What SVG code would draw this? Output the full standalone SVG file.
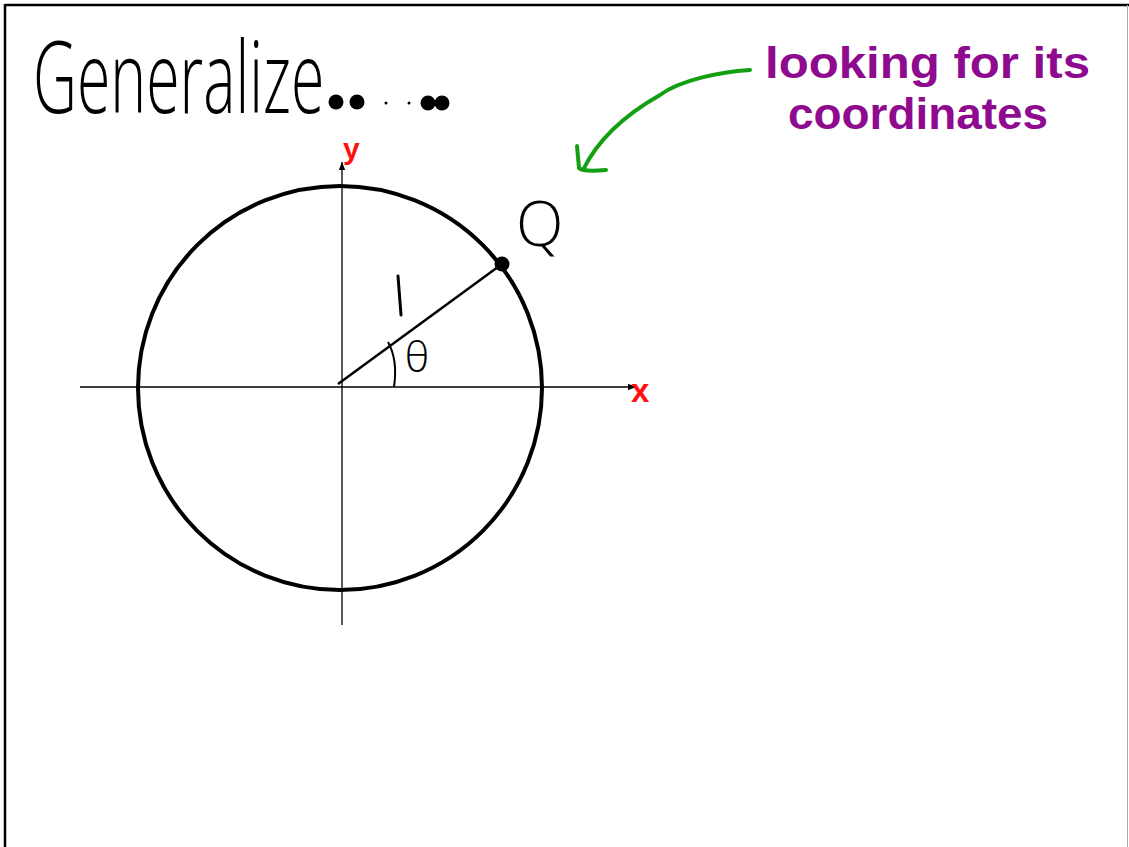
<svg xmlns="http://www.w3.org/2000/svg" width="1129" height="847" viewBox="0 0 1129 847">
<style>
.hand{font-family:"Open Sans","Liberation Sans",sans-serif;font-weight:300;fill:#000}
.red{font-family:"Liberation Sans",Arial,sans-serif;font-weight:700;fill:#ff1010}
.purple{font-family:"Liberation Sans",Arial,sans-serif;font-weight:700;fill:#8e0a8e}
.axis{stroke:#000;stroke-width:1.3;fill:none}
</style>
<defs>
<marker id="ah" viewBox="0 0 10 10" refX="10" refY="5" markerWidth="8" markerHeight="8" markerUnits="userSpaceOnUse" orient="auto">
<path d="M0,1 L10,5 L0,9 Z" fill="#000"/>
</marker>
</defs>
<rect width="1129" height="847" fill="#fff"/>
<g id="frame">
<line x1="5" y1="5" x2="1129" y2="5" stroke="#000" stroke-width="2.5"/>
<line x1="5" y1="4" x2="5" y2="847" stroke="#000" stroke-width="2.5"/>
<line x1="1127.5" y1="5" x2="1127.5" y2="847" stroke="#aaa" stroke-width="1"/>
</g>
<g id="title">
<text class="hand" transform="translate(33,113) scale(0.62,1)" x="0" y="0" font-size="100" textLength="470" lengthAdjust="spacingAndGlyphs">Generalize</text>
<circle cx="336" cy="102" r="7.5"/>
<circle cx="357" cy="102" r="7.5"/>
<circle cx="386" cy="103" r="1.5"/>
<circle cx="409" cy="103" r="1.5"/>
<circle cx="428" cy="103" r="7.5"/>
<circle cx="442" cy="103" r="7.5"/>
</g>
<g id="connectors">
<line class="axis" x1="80" y1="387" x2="636" y2="387" marker-end="url(#ah)"/>
<line class="axis" x1="342" y1="625" x2="342" y2="162" marker-end="url(#ah)"/>
<line x1="338" y1="384" x2="502" y2="264" stroke="#000" stroke-width="2.5"/>
<path d="M388,342 Q398,360 394,387" fill="none" stroke="#000" stroke-width="2"/>
<path d="M750,70 C720,72 680,80 660,95 C630,112 600,135 583,170" fill="none" stroke="#12a012" stroke-width="4" stroke-linecap="round"/>
<path d="M577,146 L579,168 Q583,172 606,170" fill="none" stroke="#12a012" stroke-width="4" stroke-linecap="round" stroke-linejoin="round"/>
</g>
<g id="circle">
<circle cx="340" cy="388" r="202" fill="none" stroke="#000" stroke-width="4"/>
</g>
<g id="pointQ">
<circle cx="502" cy="264" r="7.5"/>
<text class="hand" x="516" y="246" font-size="62" font-weight="400">Q</text>
</g>
<g id="labels">
<text class="red" x="343" y="159" font-size="30">y</text>
<text class="red" x="631" y="402" font-size="33">x</text>
<line x1="398" y1="276" x2="401" y2="315" stroke="#000" stroke-width="3" stroke-linecap="round"/>
<text class="hand" x="405" y="372" font-size="42" font-weight="400">θ</text>
</g>
<g id="note">
<text class="purple" x="765" y="78" font-size="44" textLength="325" lengthAdjust="spacingAndGlyphs">looking for its</text>
<text class="purple" x="788" y="129" font-size="44" textLength="260" lengthAdjust="spacingAndGlyphs">coordinates</text>
</g>
</svg>
